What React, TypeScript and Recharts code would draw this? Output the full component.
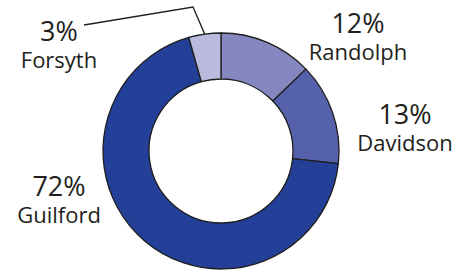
import { PieChart, Pie, Cell } from "recharts"

const counties = ["Randolph", "Davidson", "Guilford", "Forsyth"]
const shares = [12.8, 13.9, 68.9, 4.4]
const printed = ["12%", "13%", "72%", "3%"]
const colors = ["#8587C1", "#5561AB", "#233F97", "#B9BADD"]

const data = counties.map((name, i) => ({ name, value: shares[i] }))

// where each label block sits (percent baseline, name baseline)
const labelSpots = [
  { x: 358, y: 33, y2: 60 },
  { x: 405, y: 124, y2: 151 },
  { x: 59, y: 196, y2: 223 },
  { x: 59, y: 41, y2: 68 },
]

const RAD = Math.PI / 180
const textColor = "#231F20"
const font = "'Open Sans', sans-serif"

function renderLabel(props: any) {
  const { index, cx, cy, midAngle, outerRadius } = props
  const spot = labelSpots[index]
  let leader = null
  if (counties[index] === "Forsyth") {
    const ex = cx + outerRadius * Math.cos(-midAngle * RAD)
    const ey = cy + outerRadius * Math.sin(-midAngle * RAD)
    leader = (
      <polyline
        points={`84,25 193,7 ${ex},${ey}`}
        fill="none"
        stroke={textColor}
        strokeWidth={1.3}
      />
    )
  }
  return (
    <g key={`lbl-${index}`}>
      {leader}
      <text
        x={spot.x}
        y={spot.y}
        textAnchor="middle"
        fill={textColor}
        fontSize={27}
        fontFamily={font}
      >
        {printed[index]}
      </text>
      <text
        x={spot.x}
        y={spot.y2}
        textAnchor="middle"
        fill={textColor}
        fontSize={22}
        fontFamily={font}
      >
        {counties[index]}
      </text>
    </g>
  )
}

export default function App() {
  return (
    <div style={{ position: "fixed", left: 0, top: 0, background: "#fff" }}>
      <PieChart
        width={471}
        height={271}
        margin={{ top: 0, right: 0, bottom: 0, left: 0 }}
      >
        <Pie
          data={data}
          dataKey="value"
          nameKey="name"
          cx={221}
          cy={151}
          innerRadius={72}
          outerRadius={118}
          startAngle={90}
          endAngle={-270}
          stroke="#1E1E1E"
          strokeWidth={1.3}
          label={renderLabel}
          labelLine={false}
          isAnimationActive={false}
        >
          {data.map((d, i) => (
            <Cell key={d.name} fill={colors[i]} />
          ))}
        </Pie>
      </PieChart>
    </div>
  )
}
